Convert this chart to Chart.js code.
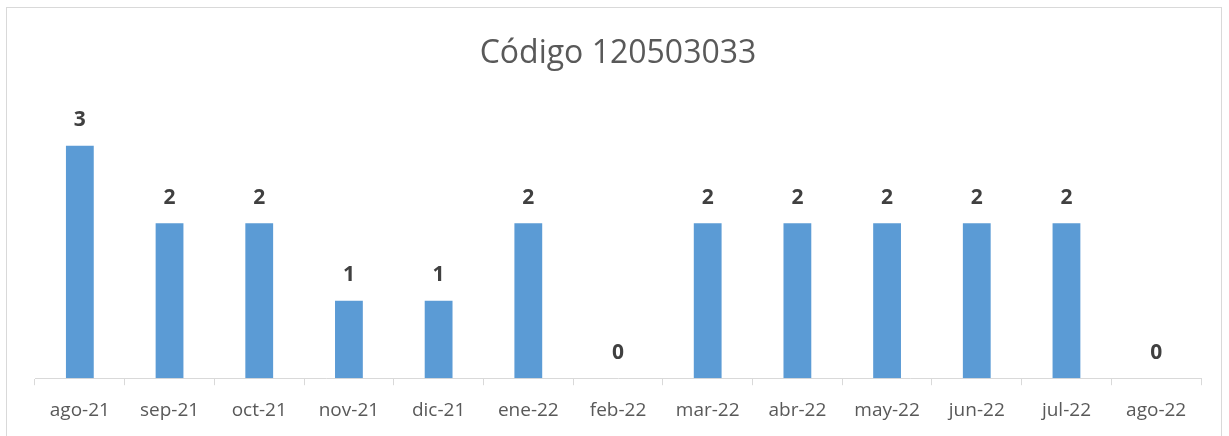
<!DOCTYPE html>
<html>
<head>
<meta charset="utf-8">
<script src="https://cdn.jsdelivr.net/npm/chart.js"></script>
<style>
  html, body { margin: 0; padding: 0; background: #fff; }
  #wrap { position: relative; width: 1229px; height: 436px; overflow: hidden; }
  #frame { position: absolute; left: 6px; top: 7px; width: 1216px; height: 440px; border: 1px solid #d9d9d9; box-sizing: border-box; }
  #chart { position: absolute; left: 0; top: 0; }
</style>
</head>
<body>
<div id="wrap">
  <div id="frame"></div>
  <canvas id="chart" width="1229" height="436"></canvas>
</div>
<script>
const categories = ['ago-21', 'sep-21', 'oct-21', 'nov-21', 'dic-21', 'ene-22', 'feb-22', 'mar-22', 'abr-22', 'may-22', 'jun-22', 'jul-22', 'ago-22'];
const counts = [3, 2, 2, 1, 1, 2, 0, 2, 2, 2, 2, 2, 0];
const chartTitle = 'Código 120503033';

// draws the bold value above each bar
const valueLabels = {
  id: 'valueLabels',
  afterDatasetsDraw(chart) {
    const ctx = chart.ctx;
    const meta = chart.getDatasetMeta(0);
    ctx.save();
    ctx.font = 'bold 21px "Open Sans", sans-serif';
    ctx.fillStyle = '#404040';
    ctx.textAlign = 'center';
    ctx.textBaseline = 'bottom';
    meta.data.forEach((bar, i) => {
      ctx.fillText(String(counts[i]), bar.x, bar.y - 15);
    });
    ctx.restore();
  }
};

const ctx = document.getElementById('chart');
new Chart(ctx, {
  type: 'bar',
  data: {
    labels: categories,
    datasets: [{
      data: counts,
      backgroundColor: '#5B9BD5',
      barPercentage: 0.31,
      categoryPercentage: 1
    }]
  },
  options: {
    responsive: false,
    animation: false,
    layout: { padding: { left: 35, right: 28, top: 20, bottom: 0 } },
    plugins: {
      legend: { display: false },
      tooltip: { enabled: false },
      title: {
        display: true,
        text: chartTitle,
        color: '#595959',
        font: { family: '"Open Sans", sans-serif', size: 32, weight: 'normal' },
        padding: { top: 15, bottom: 26 }
      }
    },
    scales: {
      x: {
        offset: true,
        grid: { display: true, drawOnChartArea: false, offset: true, color: '#d9d9d9', tickLength: 7 },
        border: { display: true, color: '#d9d9d9' },
        ticks: { color: '#595959', font: { family: '"Open Sans", sans-serif', size: 19 }, padding: 14, maxRotation: 0 }
      },
      y: {
        display: false,
        min: 0,
        max: 3.6
      }
    }
  },
  plugins: [valueLabels]
});
</script>
</body>
</html>
